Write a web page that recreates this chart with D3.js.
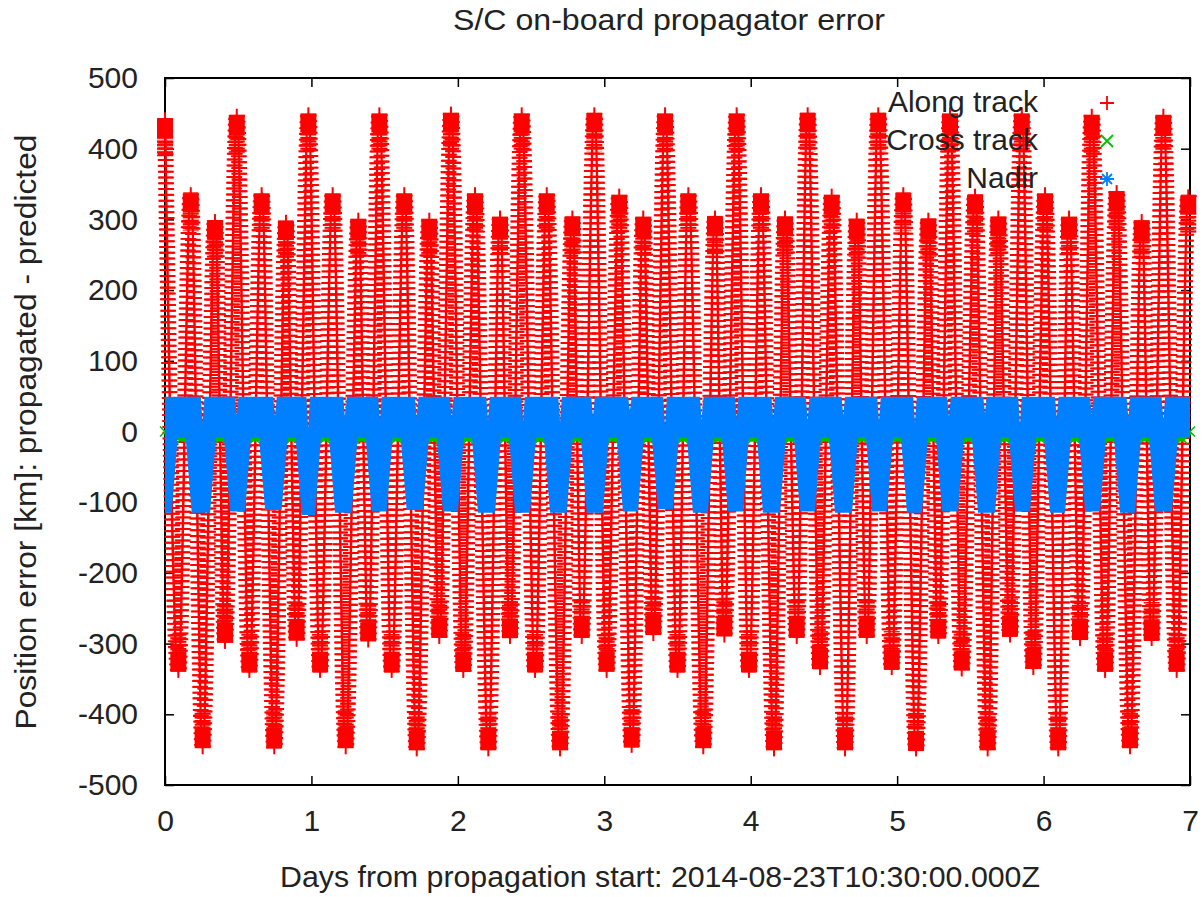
<!DOCTYPE html>
<html><head><meta charset="utf-8">
<script src="https://cdn.jsdelivr.net/npm/d3@7"></script>
<style>body{margin:0;background:#fff}svg{display:block}</style>
</head><body>
<svg id="c" width="1203" height="897"></svg>
<script>
// ---------------- data ----------------
const chartTitle = "S/C on-board propagator error";
const xTitle = "Days from propagation start: 2014-08-23T10:30:00.000Z";
const yTitle = "Position error [km]: propagated - predicted";
const xTicks = [0, 1, 2, 3, 4, 5, 6, 7];
const yTicks = [-500, -400, -300, -200, -100, 0, 100, 200, 300, 400, 500];
const seriesNames = ["Along track", "Cross track", "Nadir"];

// Along track: successive peaks / troughs (days, km)
const alongDays = [0.000,0.091,0.176,0.257,0.341,0.410, 0.490,0.576,0.660,0.746,0.826,0.899,
  0.979,1.059,1.145,1.234,1.320,1.388, 1.464,1.548,1.634,1.719,1.805,1.873,
  1.953,2.037,2.117,2.208,2.288,2.356, 2.436,2.527,2.607,2.698,2.782,2.846,
  2.932,3.016,3.102,3.187,3.266,3.335, 3.415,3.500,3.574,3.676,3.756,3.820,
  3.904,3.988,4.070,4.159,4.234,4.314, 4.389,4.473,4.553,4.644,4.724,4.792,
  4.871,4.963,5.042,5.129,5.213,5.281, 5.361,5.441,5.532,5.618,5.691,5.771,
  5.851,5.930,6.010,6.100,6.174,6.249, 6.329,6.420,6.499,6.590,6.670,6.738,
  6.818,6.909,6.988,7.000];
const alongKm = [443,-340,337,-448,299,-299, 448,-340,337,-448,298,-296,
  450,-340,337,-448,301,-297, 450,-340,337,-451,301,-292,
  451,-340,337,-451,304,-292, 450,-340,337,-451,304,-292,
  450,-340,335,-446,304,-288, 450,-340,337,-448,304,-290,
  450,-340,337,-451,304,-292, 450,-336,335,-451,301,-292,
  450,-336,337,-451,301,-292, 450,-338,335,-451,304,-290,
  450,-336,337,-451,304,-295, 448,-340,340,-448,299,-295,
  448,-340,334,330];

// Nadir: gaps between the negative lobes, lobe depths, top level and notches
const nadirGapDays = [0.114,0.376,0.615,0.865,1.093,1.343,1.582,1.830,2.069,2.322,
  2.561,2.812,3.059,3.298,3.537,3.776,4.015,4.268,4.507,4.760,4.999,5.238,5.484,
  5.737,5.976,6.215,6.454,6.693,6.945];
const nadirGapKm = [-9,-9,-9,-9,-9,-9,-9,-9,-9,-9,-9,-9,-9,-9,-9,-9,-9,-9,-9,-9,
  -9,-9,-9,-9,-9,-9,-9,-9,-9];
const nadirLobeKm = [-115,-115,-113,-111,-118,-115,-113,-111,-113,-115,-115,-115,
  -115,-113,-110,-115,-113,-115,-113,-115,-113,-115,-113,-115,-113,-115,-113,-115,-113];
const nadirTopKm = 49;
const nadirNotchDays = [0.257,0.490,0.751,0.978,1.229,1.468,1.719,1.958,2.206,2.445,
  2.698,2.923,3.175,3.415,3.665,3.904,4.154,4.389,4.632,4.876,5.122,5.354,5.600,
  5.839,6.090,6.329,6.579,6.818];
const nadirNotchKm = [12,23,21,5,19,16,19,16,16,14,12,21,29,7,16,19,16,14,23,14,12,
  21,26,9,19,23,19,16];

// Cross track (mostly hidden behind nadir)
const crossDays = [0].concat(nadirGapDays, [7]);
const crossKm = [0,-10,-10,-10,-10,-10,-10,-10,-10,-10,-10,-10,-10,-10,-10,-10,-10,
  -10,-10,-10,-10,-10,-10,-10,-10,-10,-10,-10,-10,-10,0];

// ---------------- drawing ----------------
const L = 165, R = 1190, T = 78, B = 785;
const RED = "#ff0000", GREEN = "#00c000", BLUE = "#0080ff";
const FONT = "'Liberation Sans', Arial, Helvetica, sans-serif";
const FS = 30;

const svg = d3.select("#c");
const x = d3.scaleLinear().domain([0, 7]).range([L, R]);
const y = d3.scaleLinear().domain([-500, 500]).range([B, T]);

const defs = svg.append("defs");
const pat = defs.append("pattern").attr("id", "stripes").attr("patternUnits", "userSpaceOnUse")
  .attr("width", 4).attr("height", 3.6);
pat.append("rect").attr("width", 4).attr("height", 2.3).attr("fill", RED);

// axes (ticks inside, mirrored)
function styleAxis(g) {
  g.select(".domain").remove();
  g.selectAll(".tick line").attr("stroke", "#000").attr("stroke-width", 1.5);
  g.selectAll(".tick text").attr("fill", "#222").style("font-family", FONT).style("font-size", FS + "px");
}
svg.append("g").attr("transform", `translate(${L},0)`)
  .call(d3.axisLeft(y).tickValues(yTicks).tickSize(-9).tickPadding(27).tickFormat(d => String(d)))
  .call(styleAxis);
svg.append("g").attr("transform", `translate(${R},0)`)
  .call(d3.axisRight(y).tickValues(yTicks).tickSize(-9).tickFormat(""))
  .call(styleAxis);
svg.append("g").attr("transform", `translate(0,${B})`)
  .call(d3.axisBottom(x).tickValues(xTicks).tickSize(-9).tickPadding(25).tickFormat(d => String(d)))
  .call(styleAxis);
svg.append("g").attr("transform", `translate(0,${T})`)
  .call(d3.axisTop(x).tickValues(xTicks).tickSize(-9).tickFormat(""))
  .call(styleAxis);
svg.append("rect").attr("x", x(0)).attr("y", y(500))
  .attr("width", x(7) - x(0)).attr("height", y(-500) - y(500))
  .attr("fill", "none").attr("stroke", "#000").attr("stroke-width", 2);

// ---- Along track (red '+' markers look) ----
const alongData = alongDays.map((t, i) => ({ t, v: alongKm[i] }));
const alongLine = d3.line().x(d => x(d.t)).y(d => y(d.v)).curve(d3.curveMonotoneX);
const dAlong = alongLine(alongData);
const gRed = svg.append("g");
gRed.selectAll("path.bar").data(d3.range(-7, 8)).join("path")
  .attr("class", "bar").attr("d", dAlong)
  .attr("transform", d => `translate(${d},0)`)
  .attr("fill", "none").attr("stroke", RED).attr("stroke-width", 1.8)
  .attr("stroke-dasharray", "2 3.8");
gRed.append("path").attr("d", dAlong).attr("fill", "none")
  .attr("stroke", RED).attr("stroke-width", 2.5);
const extremes = alongData.slice(0, alongData.length - 1);
// dense zone next to each extreme
gRed.selectAll("rect.dense").data(extremes).join("rect").attr("class", "dense")
  .attr("x", d => x(d.t) - 8).attr("width", 16)
  .attr("y", d => d.v > 0 ? y(d.v) + 18 : y(d.v) - 38).attr("height", 20)
  .attr("fill", "url(#stripes)");
gRed.selectAll("rect.blk").data(extremes).join("rect").attr("class", "blk")
  .attr("x", d => x(d.t) - 8).attr("width", 16)
  .attr("y", d => d.v > 0 ? y(d.v) : y(d.v) - 19).attr("height", 19)
  .attr("fill", RED);
gRed.selectAll("rect.stem").data(extremes).join("rect").attr("class", "stem")
  .attr("x", d => x(d.t) - 1).attr("width", 2)
  .attr("y", d => d.v > 0 ? y(d.v) - 6 : y(d.v)).attr("height", 6)
  .attr("fill", RED);

// ---- Cross track (green) ----
const crossData = crossDays.map((t, i) => ({ t, v: crossKm[i] }));
const gGreen = svg.append("g");
gGreen.append("path").attr("d", d3.line().x(d => x(d.t)).y(d => y(d.v))(crossData))
  .attr("fill", "none").attr("stroke", GREEN).attr("stroke-width", 6);
gGreen.selectAll("path.xm").data(crossData).join("path").attr("class", "xm")
  .attr("transform", d => `translate(${x(d.t)},${y(d.v)})`)
  .attr("d", "M-5,-5L5,5M-5,5L5,-5").attr("stroke", GREEN).attr("stroke-width", 1.5);

// ---- Nadir (blue band) ----
const upper = [[x(0), y(nadirTopKm)]];
nadirNotchDays.forEach((t, i) => {
  upper.push([x(t) - 1.8, y(nadirTopKm)], [x(t), y(nadirNotchKm[i])], [x(t) + 1.8, y(nadirTopKm)]);
});
upper.push([x(7), y(nadirTopKm)]);
const lower = [[x(0), y(nadirLobeKm[0])]];
nadirGapDays.forEach((t, i) => {
  const gx = x(t);
  lower.push([gx - 10, y(nadirLobeKm[i])], [gx - 4, y(nadirGapKm[i])], [gx + 4, y(nadirGapKm[i])]);
  if (i + 1 < nadirLobeKm.length) lower.push([gx + 10, y(nadirLobeKm[i + 1])]);
});
lower.push([x(7), y(nadirGapKm[nadirGapKm.length - 1])]);
const band = upper.concat(lower.slice().reverse());
svg.append("path").attr("d", d3.line()(band) + "Z").attr("fill", BLUE);

// ---- Titles ----
const txt = (sel) => sel.attr("fill", "#222").style("font-family", FONT).style("font-size", FS + "px");
svg.append("text").attr("x", 669).attr("y", 30).attr("text-anchor", "middle")
  .attr("textLength", 432).attr("lengthAdjust", "spacingAndGlyphs").text(chartTitle).call(txt);
svg.append("text").attr("x", 660).attr("y", 887).attr("text-anchor", "middle")
  .attr("textLength", 760).attr("lengthAdjust", "spacingAndGlyphs").text(xTitle).call(txt);
svg.append("text").attr("transform", "translate(36,432) rotate(-90)").attr("text-anchor", "middle")
  .attr("textLength", 595).attr("lengthAdjust", "spacingAndGlyphs").text(yTitle).call(txt);

// ---- Legend ----
const legend = svg.append("g");
const rowsY = [101, 139, 177];
const symbols = [
  { c: RED, d: "M-7,0H7M0,-7V7" },
  { c: GREEN, d: "M-6,-6L6,6M-6,6L6,-6" },
  { c: BLUE, d: "M-7,0H7M0,-7V7M-5,-5L5,5M-5,5L5,-5" }
];
legend.selectAll("text").data(seriesNames).join("text")
  .attr("x", 1038).attr("y", (d, i) => rowsY[i] + 10.5).attr("text-anchor", "end")
  .text(d => d).call(txt);
legend.selectAll("path").data(symbols).join("path")
  .attr("transform", (d, i) => `translate(1107,${rowsY[i] + 2})`)
  .attr("d", d => d.d).attr("stroke", d => d.c).attr("stroke-width", 1.8).attr("fill", "none");
</script>
</body></html>
